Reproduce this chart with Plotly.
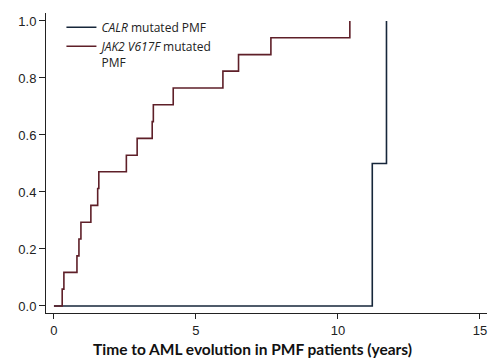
import plotly.graph_objects as go

# Kaplan-Meier style cumulative incidence
calr_t = [0.0, 11.21, 11.71]
calr_y = [0.0, 0.5, 1.0]

jak2_t = [0.0, 0.29, 0.35, 0.81, 0.88, 0.95, 1.30, 1.54, 1.58, 2.55, 2.93,
          3.46, 3.50, 4.20, 5.95, 6.50, 7.64, 10.42]
jak2_y = [0.0, 0.059, 0.118, 0.176, 0.235, 0.294, 0.353, 0.412, 0.471, 0.529,
          0.588, 0.647, 0.706, 0.765, 0.824, 0.882, 0.941, 1.0]

x_ticks = [0, 5, 10, 15]
y_ticks = [0.0, 0.2, 0.4, 0.6, 0.8, 1.0]
x_title = "Time to AML evolution in PMF patients (years)"

fig = go.Figure()
fig.add_trace(go.Scatter(x=calr_t, y=calr_y, mode="lines", line_shape="hv",
                         line=dict(color="#16263a", width=1.6),
                         name="<i>CALR</i> mutated PMF"))
fig.add_trace(go.Scatter(x=jak2_t, y=jak2_y, mode="lines", line_shape="hv",
                         line=dict(color="#5e1f28", width=1.6),
                         name="<i>JAK2 V617F</i> mutated<br>PMF"))

fig.update_layout(
    width=500, height=363,
    margin=dict(l=46, r=13, t=13, b=50, autoexpand=False),
    paper_bgcolor="white", plot_bgcolor="white",
    showlegend=True,
    legend=dict(x=0.035, y=1.0, xanchor="left", yanchor="top",
                bgcolor="rgba(0,0,0,0)", valign="top",
                font=dict(family="Open Sans", size=12, color="#222222"),
                tracegroupgap=0, itemwidth=30),
    font=dict(family="Liberation Sans", size=13, color="#222222"),
    annotations=[dict(text="<b>" + x_title + "</b>", xref="paper", yref="paper",
                      x=0.469, y=-0.12, xanchor="center", yanchor="middle",
                      showarrow=False,
                      font=dict(family="Lato", size=15.5, color="#111111"))],
)
fig.update_xaxes(range=[-0.28, 15.25], tickvals=x_ticks, ticktext=[str(v) for v in x_ticks],
                 showgrid=False, zeroline=False, showline=True, linecolor="#222222",
                 linewidth=1, ticks="outside", ticklen=5, tickcolor="#222222",
                 automargin=False)
fig.update_yaxes(range=[-0.0246, 1.028], tickvals=y_ticks,
                 ticktext=[f"{v:.1f}" for v in y_ticks],
                 showgrid=False, zeroline=False, showline=True, linecolor="#222222",
                 linewidth=1, ticks="outside", ticklen=6, tickcolor="#222222",
                 automargin=False)

fig.write_html("out.html", config={"displayModeBar": False},
               post_script="document.body.style.margin='0';document.body.style.overflow='hidden';")
